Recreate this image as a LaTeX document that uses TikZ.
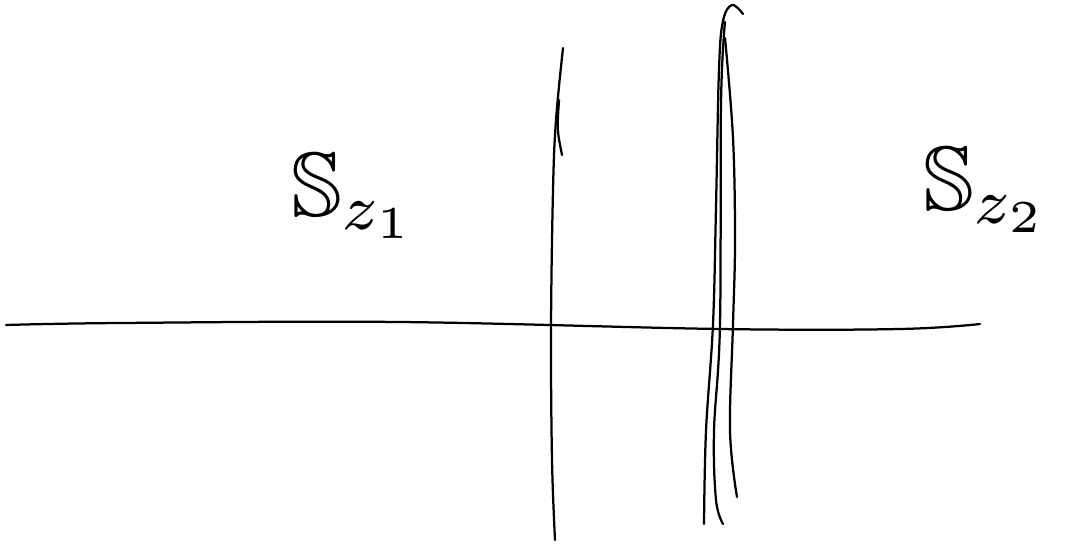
\documentclass[tikz,border=0pt]{standalone}
\usepackage{amsmath,amssymb}
\usepackage{tikz}
\tikzset{
  pen/.style={draw=black,line width=1.6pt,line cap=round,line join=round},
  sheet/.style={font=\normalsize,inner sep=0pt,scale=6.5}
}

\begin{document}
\begin{tikzpicture}[x=0.025cm,y=-0.025cm]
  \useasboundingbox (0,0) rectangle (1084,546);
  % axis
  \draw[pen] plot[smooth,tension=0.6] coordinates {(6,325) (120,323) (400,322) (720,329) (900,329) (980,324)};
  % first wall
  \draw[pen] plot[smooth,tension=0.6] coordinates {(563,48) (556,120) (553,190) (551,330) (552,460) (555,540)};
  \draw[pen] (559,100) .. controls (557,130) .. (562,155);
  % second wall, drawn three times
  \draw[pen] plot[smooth,tension=0.6] coordinates {(743,14) (732,5) (723,21) (719,69) (716,207) (713,324) (706,431) (704,524)};
  \draw[pen] plot[smooth,tension=0.6] coordinates {(725,22) (721,103) (720,324) (714,431) (716,500) (723,524)};
  \draw[pen] plot[smooth,tension=0.6] coordinates {(725,38) (733,138) (735,241) (733,324) (730,431) (737,497)};
  % labels
  \node[sheet] (s1) at (354,196) {$\mathbb{S}_{z_1}$};
  \node[sheet] (s2) at (986,190) {$\mathbb{S}_{z_2}$};
\end{tikzpicture}
\end{document}
